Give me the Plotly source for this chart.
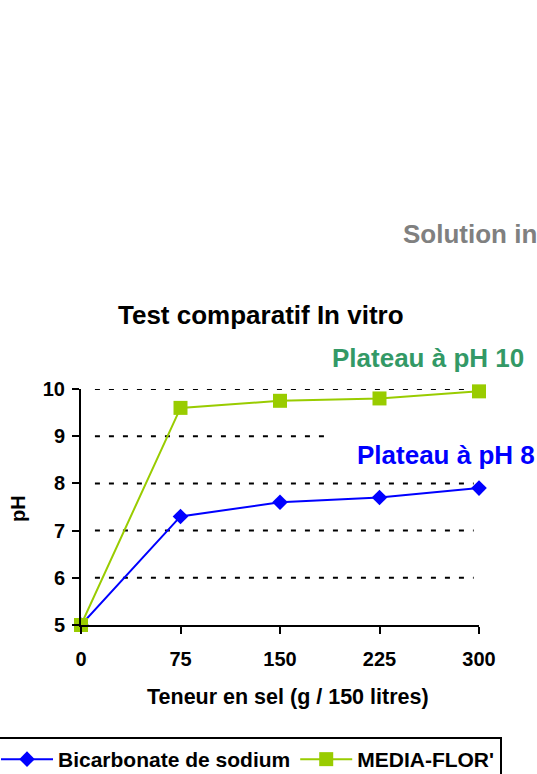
import plotly.graph_objects as go

# ---- data ----
sel = [0, 75, 150, 225, 300]
bicarbonate = [5.0, 7.3, 7.6, 7.7, 7.9]
media_flor = [5.0, 9.6, 9.75, 9.8, 9.95]
x_ticks = [0, 75, 150, 225, 300]
y_ticks = [5, 6, 7, 8, 9, 10]

W, H = 537, 774
L, R, T, B = 81, 479, 389, 625  # plot area in pixels

def px(xp):
    return (xp - L) / (W - L)

def py(yp):
    return (B - yp) / (B - T)

FONT = "Liberation Sans, Arial, sans-serif"

fig = go.Figure()
fig.add_trace(go.Scatter(
    x=sel, y=bicarbonate, name="Bicarbonate de sodium", mode="lines+markers",
    line=dict(color="#0000FF", width=2),
    marker=dict(symbol="diamond", size=12, color="#0000FF"),
    cliponaxis=False,
))
fig.add_trace(go.Scatter(
    x=sel, y=media_flor, name="MEDIA-FLOR'", mode="lines+markers",
    line=dict(color="#99CC00", width=2),
    marker=dict(symbol="square", size=14, color="#99CC00"),
    cliponaxis=False,
))

# dotted horizontal gridlines
shapes = []
for yv in [6, 7, 8, 10]:
    shapes.append(dict(type="line", xref="x", yref="y", x0=10.5, x1=296, y0=yv, y1=yv,
                       line=dict(color="black", width=2, dash="5px,9px"), layer="below"))
shapes.append(dict(type="line", xref="x", yref="y", x0=10.5, x1=184, y0=9, y1=9,
                   line=dict(color="black", width=2, dash="5px,9px"), layer="below"))

annotations = [
    dict(text="Test comparatif In vitro", x=px(261), y=py(315), xref="paper", yref="paper",
         showarrow=False, xanchor="center", yanchor="middle",
         font=dict(family=FONT, size=26, color="black", weight="bold")),
    dict(text="Solution in", x=px(401), y=py(234), xref="paper", yref="paper",
         showarrow=False, xanchor="left", yanchor="middle",
         font=dict(family=FONT, size=26, color="#808080", weight="bold")),
    dict(text="Plateau à pH 10", x=px(330), y=py(358), xref="paper", yref="paper",
         showarrow=False, xanchor="left", yanchor="middle",
         font=dict(family=FONT, size=26, color="#339966", weight="bold")),
    dict(text="Plateau à pH 8", x=px(355), y=py(455), xref="paper", yref="paper",
         showarrow=False, xanchor="left", yanchor="middle",
         font=dict(family=FONT, size=26, color="#0000FF", weight="bold")),
    dict(text="pH", x=px(18), y=py(508), xref="paper", yref="paper", textangle=-90,
         showarrow=False, xanchor="center", yanchor="middle",
         font=dict(family=FONT, size=20, color="black", weight="bold")),
    dict(text="Teneur en sel (g / 150 litres)", x=px(288), y=py(697), xref="paper", yref="paper",
         showarrow=False, xanchor="center", yanchor="middle",
         font=dict(family=FONT, size=21.5, color="black", weight="bold")),
]

fig.update_layout(
    width=W, height=H,
    margin=dict(l=L, r=0, t=T, b=H - B, pad=0, autoexpand=False),
    paper_bgcolor="white", plot_bgcolor="white",
    font=dict(family=FONT, color="black"),
    shapes=shapes, annotations=annotations,
    showlegend=True,
    legend=dict(orientation="h", x=px(-6), y=py(737), xanchor="left", yanchor="top",
                bordercolor="black", borderwidth=2, bgcolor="white",
                font=dict(family=FONT, size=21, color="black", weight="bold"),
                itemwidth=52, traceorder="normal"),
    xaxis=dict(domain=[0, (R - L) / (W - L)], range=[0, 300],
               tickvals=x_ticks, ticktext=[str(v) for v in x_ticks],
               showgrid=False, zeroline=False, showline=True, linecolor="black", linewidth=2,
               ticks="outside", ticklen=7, tickwidth=2, tickcolor="black",
               tickfont=dict(family=FONT, size=20, color="black", weight="bold"),
               ticklabelstandoff=8, fixedrange=True),
    yaxis=dict(range=[5, 10], tickvals=y_ticks, ticktext=[str(v) for v in y_ticks],
               showgrid=False, zeroline=False, showline=True, linecolor="black", linewidth=2,
               ticks="outside", ticklen=7, tickwidth=2, tickcolor="black",
               tickfont=dict(family=FONT, size=20, color="black", weight="bold"),
               ticklabelstandoff=3, fixedrange=True),
)

fig.write_html("out.html", config={"displayModeBar": False},
               post_script="document.body.style.margin='0px';")
